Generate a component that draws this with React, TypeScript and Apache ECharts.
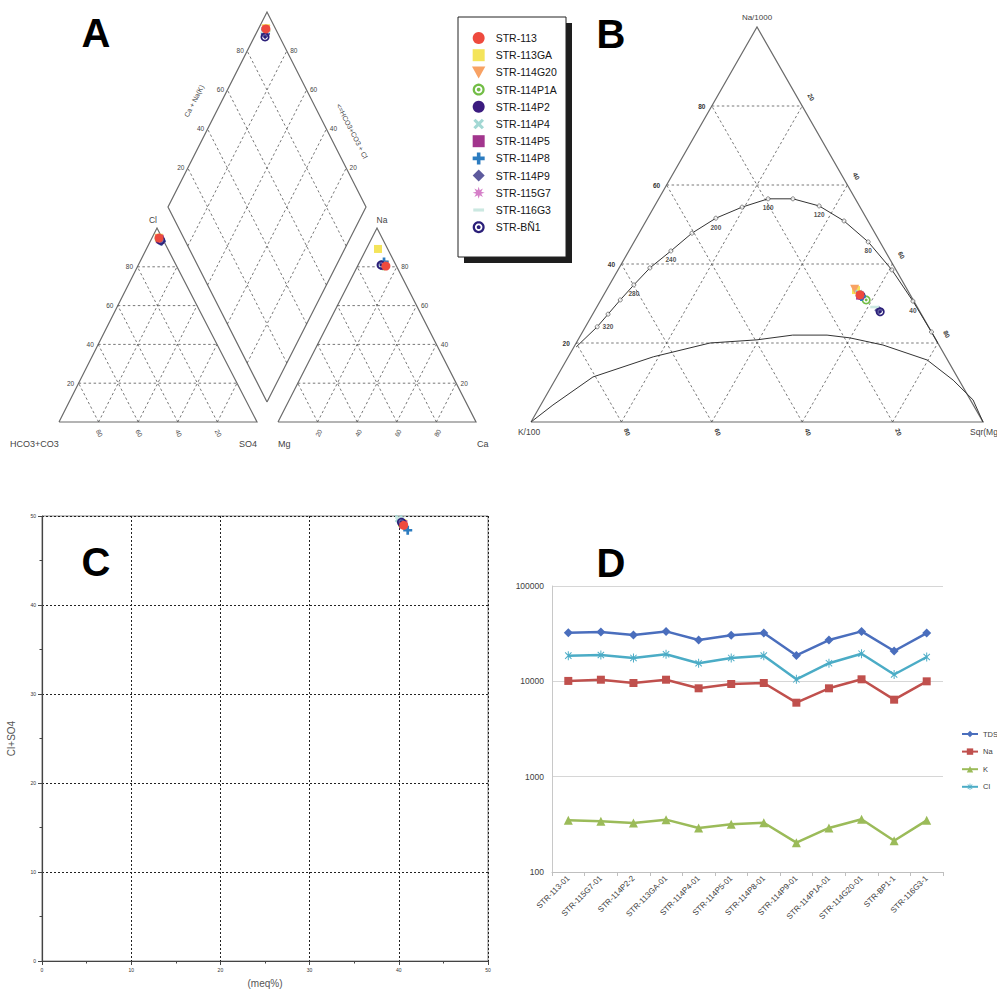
import React, { useEffect, useRef } from "react";
import * as echarts from "echarts";

// ---------------- DATA ----------------
const samples = ["STR-113", "STR-113GA", "STR-114G20", "STR-114P1A", "STR-114P2", "STR-114P4", "STR-114P5", "STR-114P8", "STR-114P9", "STR-115G7", "STR-116G3", "STR-BÑ1"];
// Piper anion triangle (% meq)
const anionCl = [94.8, 95.0, 94.6, 94.5, 94.0, 93.8, 94.2, 93.3, 93.0, 94.4, 94.3, 93.6];
const anionSO4 = [3.6, 3.4, 3.7, 3.9, 4.6, 4.8, 4.3, 5.4, 5.8, 4.0, 4.1, 5.0];
// Piper cation triangle (% meq)
const cationNa = [80.4, 89.2, 80.8, 80.5, 80.9, 81.0, 80.6, 82.5, 80.9, 80.7, 80.6, 80.9];
const cationCa = [14.3, 5.9, 13.5, 13.0, 12.0, 12.2, 13.2, 12.3, 11.8, 13.3, 12.9, 11.6];
// Piper diamond (left-edge scale, right-edge scale)
const diamondLeft = [95.1, 95.3, 94.9, 94.6, 93.8, 94.0, 94.4, 93.9, 93.2, 94.5, 94.2, 92.6];
const diamondRight = [96.2, 96.4, 96.0, 95.8, 95.5, 95.6, 95.9, 95.4, 95.1, 95.9, 95.7, 94.6];
// Giggenbach Na-K-Mg (%)
const gigNa = [32.2, 33.4, 33.6, 30.9, 32.0, 32.5, 32.0, 31.8, 28.3, 32.1, 29.1, 27.9];
const gigMg = [56.7, 55.2, 54.8, 58.7, 57.0, 56.3, 56.8, 57.2, 62.8, 56.6, 61.5, 63.3];
// Panel C
const ratioX = [40.55, 40.4, 40.5, 40.4, 40.45, 40.0, 40.5, 41.0, 40.4, 40.5, 40.1, 40.3];
const ratioY = [48.95, 49.2, 49.0, 49.1, 49.15, 49.7, 49.05, 48.4, 49.3, 49.0, 49.8, 49.3];
// Giggenbach full equilibrium line (Na%, Mg%) and temperature marks
const fullEqNa = [19.0, 24.1, 27.3, 30.9, 34.7, 39.0, 43.3, 47.8, 51.6, 54.4, 56.5, 56.5, 54.7, 50.9, 45.6, 38.5, 30.6, 22.8, 20.0];
const fullEqMg = [0.5, 2.6, 3.4, 4.3, 5.4, 6.8, 9.3, 11.7, 15.1, 19.5, 24.2, 29.7, 36.4, 43.8, 51.8, 60.6, 69.2, 77.2, 80.0];
const fullEqTemp: (string | null)[] = [null, "320", "", "", "280", "", "240", "", "200", "", "160", "", "120", "", "80", "", "40", "", null];
// Immature waters boundary (Na%, Mg%)
const partialNa = [0, 4.3, 11.4, 16.5, 20.0, 20.8, 22.0, 22.0, 21.3, 19.5, 15.7, 10.6, 5.6, 0];
const partialMg = [0, 2.7, 8.0, 18.8, 29.6, 39.6, 46.9, 54.5, 59.9, 68.1, 79.8, 88.1, 95.0, 100];
const ternTicks = [20, 40, 60, 80];
// Panel D
const wells = ["STR-113-01", "STR-115G7-01", "STR-114P2-2", "STR-113GA-01", "STR-114P4-01", "STR-114P5-01", "STR-114P8-01", "STR-114P9-01", "STR-114P1A-01", "STR-114G20-01", "STR-BP1-1", "STR-116G3-1"];
const tds = [32400, 32900, 30600, 33400, 27100, 30400, 32100, 18700, 27100, 33400, 20800, 32100];
const na = [10100, 10400, 9600, 10400, 8450, 9380, 9600, 5970, 8450, 10500, 6420, 10000];
const k = [348, 340, 326, 354, 290, 316, 329, 203, 290, 357, 213, 348];
const cl = [18600, 18900, 17600, 19200, 15500, 17600, 18600, 10500, 15500, 19500, 11800, 18000];

// ---------------- STYLE / LAYOUT ----------------
const FONT = "'Liberation Sans', Arial, Helvetica, sans-serif";
const L = {
  anion: { apex: [157, 228], bl: [59, 422], br: [257, 422] },
  cation: { apex: [377, 228], bl: [278, 422], br: [476, 422] },
  diamond: { b: [267, 402], l: [168, 207], r: [366, 207] },
  gig: { apex: [757, 27], bl: [531, 422], br: [983, 422] },
};

function polyPath(pts: number[][]) {
  return pts.map((p, i) => (i ? "L" : "M") + p[0].toFixed(2) + "," + p[1].toFixed(2)).join("") + "Z";
}
function rot(pts: number[][], a: number) {
  const c = Math.cos(a), s = Math.sin(a);
  return pts.map(([x, y]) => [x * c - y * s, x * s + y * c]);
}
function circlePts(r: number, ccw: boolean) {
  const pts: number[][] = [];
  for (let i = 0; i < 28; i++) {
    const a = (ccw ? -1 : 1) * (i * 2 * Math.PI) / 28;
    pts.push([r * Math.sin(a), -r * Math.cos(a)]);
  }
  return pts;
}
const PAD = "M-10,-10M10,10";
const plusPts = [[-3, -10], [3, -10], [3, -3], [10, -3], [10, 3], [3, 3], [3, 10], [-3, 10], [-3, 3], [-10, 3], [-10, -3], [-3, -3]];
const SYM_PLUS = "path://" + polyPath(plusPts);
const SYM_X = "path://" + PAD + polyPath(rot([[-2.6, -10], [2.6, -10], [2.6, -2.6], [10, -2.6], [10, 2.6], [2.6, 2.6], [2.6, 10], [-2.6, 10], [-2.6, 2.6], [-10, 2.6], [-10, -2.6], [-2.6, -2.6]], Math.PI / 4));
const starPts: number[][] = [];
for (let i = 0; i < 16; i++) {
  const r = i % 2 ? 4.6 : 10;
  const a = (i * Math.PI) / 8 - Math.PI / 2;
  starPts.push([r * Math.cos(a), r * Math.sin(a)]);
}
const SYM_STAR = "path://" + polyPath(starPts);
const SYM_RING = "path://" + polyPath(circlePts(10, false)) + polyPath(circlePts(6.2, true)) + polyPath(circlePts(3.2, false));
const SYM_TRIDOWN = "path://M-10,-9L10,-9L0,9Z";
const SYM_DASH = "path://" + PAD + "M-9,-2.6L9,-2.6L9,2.6L-9,2.6Z";
const SYM_SQUARE = "path://M-10,-10L10,-10L10,10L-10,10Z";
const SYM_DIAMOND = "path://M0,-10L10,0L0,10L-10,0Z";
const bar = [[-1.1, -10], [1.1, -10], [1.1, 10], [-1.1, 10]];
const SYM_ASTER = "path://" + PAD + polyPath(bar) + polyPath(rot(bar, Math.PI / 4)) + polyPath(rot(bar, -Math.PI / 4));

const sampleStyle = [
  { color: "#ee4a3e", symbol: "circle", size: 9 },
  { color: "#f4e45a", symbol: SYM_SQUARE, size: 8 },
  { color: "#f8a264", symbol: SYM_TRIDOWN, size: 9 },
  { color: "#72bd46", symbol: SYM_RING, size: 9 },
  { color: "#3b1b7f", symbol: "circle", size: 9 },
  { color: "#a3d8d4", symbol: SYM_X, size: 9 },
  { color: "#a2358d", symbol: SYM_SQUARE, size: 8 },
  { color: "#2c7cc0", symbol: SYM_PLUS, size: 9 },
  { color: "#5d5a9d", symbol: SYM_DIAMOND, size: 9 },
  { color: "#d57fc8", symbol: SYM_STAR, size: 9 },
  { color: "#cbe8e1", symbol: SYM_DASH, size: 10 },
  { color: "#2b1f79", symbol: SYM_RING, size: 9 },
];

function tern(T: any, a: number, r: number) {
  const l = 1 - a - r;
  return [T.apex[0] * a + T.br[0] * r + T.bl[0] * l, T.apex[1] * a + T.br[1] * r + T.bl[1] * l];
}
function dia(s: number, t: number) {
  const d = L.diamond;
  return [d.b[0] + s * (d.l[0] - d.b[0]) + t * (d.r[0] - d.b[0]), d.b[1] + s * (d.l[1] - d.b[1]) + t * (d.r[1] - d.b[1])];
}

function txt(x: number, y: number, text: string, o: any = {}) {
  return {
    type: "text", x, y, rotation: o.rot || 0, silent: true, z: 6,
    style: {
      text, fill: o.color || "#444", fontSize: o.size || 7, fontFamily: FONT, fontWeight: o.weight || "normal",
      align: o.align || "center", verticalAlign: o.valign || "middle",
    },
  };
}

function buildOption() {
  const frames: any[] = [];
  const dashes: any[] = [];
  const graphics: any[] = [];
  const fr = ternTicks.map((v) => v / 100);

  const triangle = (T: any) => {
    frames.push({ coords: [T.bl, T.apex, T.br, T.bl] });
    fr.forEach((q) => {
      dashes.push({ coords: [tern(T, q, 0), tern(T, q, 1 - q)] });
      dashes.push({ coords: [tern(T, 0, q), tern(T, 1 - q, q)] });
      dashes.push({ coords: [tern(T, 0, 1 - q), tern(T, 1 - q, 0)] });
    });
  };
  triangle(L.anion);
  triangle(L.cation);
  triangle(L.gig);
  frames.push({ coords: [dia(0, 0), dia(1, 0), dia(1, 1), dia(0, 1), dia(0, 0)] });
  fr.forEach((q) => {
    dashes.push({ coords: [dia(q, 0), dia(q, 1)] });
    dashes.push({ coords: [dia(0, q), dia(1, q)] });
  });

  // ---- Panel A texts ----
  ternTicks.forEach((v) => {
    const q = v / 100;
    const pl = dia(1, q);
    graphics.push(txt(pl[0] - 7, pl[1] - 1, String(v), { size: 6.5 }));
    const pr = dia(q, 1);
    graphics.push(txt(pr[0] + 7, pr[1] - 1, String(v), { size: 6.5 }));
    const a1 = tern(L.anion, q, 0);
    graphics.push(txt(a1[0] - 8, a1[1], String(v), { size: 6.5 }));
    const c1 = tern(L.cation, q, 1 - q);
    graphics.push(txt(c1[0] + 8, c1[1], String(v), { size: 6.5 }));
    const ab = tern(L.anion, 0, q);
    graphics.push(txt(ab[0] + 1, ab[1] + 11, String(100 - v), { size: 6.5, rot: -1.1 }));
    const cb = tern(L.cation, 0, q);
    graphics.push(txt(cb[0] + 1, cb[1] + 11, String(v), { size: 6.5, rot: 1.1 }));
  });
  graphics.push(txt(194, 101, "Ca + Na(K)", { size: 7, rot: 1.1 }));
  graphics.push(txt(352, 131, "<=HCO3+CO3 + Cl", { size: 7, rot: -1.1 }));
  graphics.push(txt(153, 220, "Cl", { size: 8.5 }));
  graphics.push(txt(382, 220, "Na", { size: 8.5 }));
  graphics.push(txt(10, 444, "HCO3+CO3", { size: 9, align: "left" }));
  graphics.push(txt(257, 444, "SO4", { size: 9, align: "right" }));
  graphics.push(txt(278, 444, "Mg", { size: 9, align: "left" }));
  graphics.push(txt(477, 444, "Ca", { size: 9, align: "left" }));

  // ---- Panel B texts ----
  ternTicks.forEach((v) => {
    const q = v / 100;
    const pl = tern(L.gig, q, 0);
    graphics.push(txt(pl[0] - 10, pl[1], String(v), { size: 6.5, weight: "bold", color: "#333" }));
    const pr = tern(L.gig, 1 - q, q);
    graphics.push(txt(pr[0] + 9, pr[1] - 9, String(v), { size: 6.5, weight: "bold", color: "#333", rot: -1.1 }));
    const pb = tern(L.gig, 0, q);
    graphics.push(txt(pb[0] + 6, pb[1] + 10, String(100 - v), { size: 6.5, weight: "bold", color: "#333", rot: -1.2 }));
  });
  graphics.push(txt(757, 17, "Na/1000", { size: 8 }));
  graphics.push(txt(529, 432, "K/100", { size: 8.5 }));
  graphics.push(txt(970, 432, "Sqr(Mg", { size: 8.5, align: "left" }));

  // ---- panel letters ----
  const big = { size: 40, weight: "bold", color: "#000" };
  graphics.push(txt(96, 33, "A", big));
  graphics.push(txt(611, 34, "B", big));
  graphics.push(txt(96, 562, "C", big));
  graphics.push(txt(611, 563, "D", big));

  // ---- legend box ----
  graphics.push({ type: "rect", z: 1, silent: true, shape: { x: 464, y: 23, width: 108, height: 240 }, style: { fill: "#1e1e1e" } });
  graphics.push({ type: "rect", z: 2, silent: true, shape: { x: 458, y: 17, width: 108, height: 240 }, style: { fill: "#fff", stroke: "#222", lineWidth: 1 } });

  const series: any[] = [];
  series.push({
    type: "lines", coordinateSystem: "cartesian2d", xAxisIndex: 0, yAxisIndex: 0, polyline: true, silent: true, z: 1,
    lineStyle: { color: "#6b6b6b", width: 1.2, opacity: 1 }, data: frames,
  });
  series.push({
    type: "lines", coordinateSystem: "cartesian2d", xAxisIndex: 0, yAxisIndex: 0, polyline: true, silent: true, z: 1,
    lineStyle: { color: "#555", width: 0.8, opacity: 1, type: [2.5, 2.5] }, data: dashes,
  });
  const fullCoords = fullEqNa.map((n, i) => tern(L.gig, n / 100, fullEqMg[i] / 100));
  const partCoords = partialNa.map((n, i) => tern(L.gig, n / 100, partialMg[i] / 100));
  series.push({
    type: "lines", coordinateSystem: "cartesian2d", xAxisIndex: 0, yAxisIndex: 0, polyline: true, silent: true, z: 2,
    lineStyle: { color: "#333", width: 1, opacity: 1 }, data: [{ coords: fullCoords }, { coords: partCoords }],
  });
  const markData: any[] = [];
  fullEqTemp.forEach((t, i) => {
    if (t === null) return;
    markData.push({
      value: fullCoords[i],
      label: { show: t !== "", formatter: t, position: t === "320" ? "right" : "bottom", distance: 3 },
    });
  });
  series.push({
    type: "scatter", name: "_temps", xAxisIndex: 0, yAxisIndex: 0, silent: true, z: 2,
    symbol: "circle", symbolSize: 4,
    itemStyle: { color: "#fff", borderColor: "#444", borderWidth: 0.8 },
    label: { fontSize: 6.5, fontWeight: "bold", color: "#222", fontFamily: FONT },
    data: markData,
  });

  // sample points (A + B on pixel grid, C on its own axes)
  samples.forEach((name, i) => {
    const st = sampleStyle[i];
    const pts = [
      tern(L.anion, anionCl[i] / 100, anionSO4[i] / 100),
      tern(L.cation, cationNa[i] / 100, cationCa[i] / 100),
      dia(diamondRight[i] / 100, diamondLeft[i] / 100),
      tern(L.gig, gigNa[i] / 100, gigMg[i] / 100),
    ];
    const common = {
      type: "scatter", name, symbol: st.symbol, symbolSize: st.size,
      itemStyle: { color: st.color, opacity: 1 }, z: i === 0 ? 4 : 3, silent: true,
    };
    series.push({ ...common, xAxisIndex: 0, yAxisIndex: 0, data: pts });
    series.push({ ...common, xAxisIndex: 1, yAxisIndex: 1, data: [[ratioX[i], ratioY[i]]] });
  });

  // Panel D lines
  const lineDefs = [
    { name: "TDS", data: tds, color: "#4a6ebd", symbol: "diamond", size: 9 },
    { name: "Na", data: na, color: "#c0504d", symbol: "rect", size: 8 },
    { name: "K", data: k, color: "#9bbb59", symbol: "triangle", size: 9 },
    { name: "Cl", data: cl, color: "#4bacc6", symbol: SYM_ASTER, size: 9 },
  ];
  lineDefs.forEach((d) => {
    series.push({
      type: "line", name: d.name, xAxisIndex: 2, yAxisIndex: 2, data: d.data,
      symbol: d.symbol, symbolSize: d.size, showSymbol: true,
      lineStyle: { color: d.color, width: 2.5 }, itemStyle: { color: d.color }, z: 3,
    });
  });

  return {
    animation: false,
    backgroundColor: "#fff",
    textStyle: { fontFamily: FONT },
    grid: [
      { left: 0, top: 0, width: 997, height: 990 },
      { left: 42, top: 516, width: 446, height: 445, show: true, borderColor: "#888", borderWidth: 1, backgroundColor: "transparent" },
      { left: 552, top: 586, width: 391, height: 286 },
    ],
    xAxis: [
      { type: "value", gridIndex: 0, min: 0, max: 997, show: false },
      {
        type: "value", gridIndex: 1, min: 0, max: 50, interval: 10,
        name: "(meq%)", nameLocation: "middle", nameGap: 17,
        nameTextStyle: { fontSize: 10, color: "#555", fontFamily: FONT },
        axisLine: { lineStyle: { color: "#444", width: 1.2 } },
        axisTick: { show: true, length: 4, lineStyle: { color: "#444" } },
        minorTick: { show: true, splitNumber: 2, length: 2.5, lineStyle: { color: "#444" } },
        axisLabel: { fontSize: 5, color: "#333", margin: 6 },
        splitLine: { show: true, lineStyle: { color: "#222", width: 1, type: [2, 2] } },
      },
      {
        type: "category", gridIndex: 2, data: wells, boundaryGap: true,
        axisLine: { lineStyle: { color: "#bfbfbf", width: 1 } },
        axisTick: { show: true, length: 4, lineStyle: { color: "#bfbfbf" } },
        axisLabel: { rotate: 45, fontSize: 8, color: "#404040", margin: 5, interval: 0 },
      },
    ],
    yAxis: [
      { type: "value", gridIndex: 0, min: 0, max: 990, inverse: true, show: false },
      {
        type: "value", gridIndex: 1, min: 0, max: 50, interval: 10,
        name: "Cl+SO4", nameLocation: "middle", nameGap: 26,
        nameTextStyle: { fontSize: 10, color: "#555", fontFamily: FONT },
        axisLine: { show: true, lineStyle: { color: "#444", width: 1.2 } },
        axisTick: { show: true, length: 4, lineStyle: { color: "#444" } },
        minorTick: { show: true, splitNumber: 2, length: 2.5, lineStyle: { color: "#444" } },
        axisLabel: { fontSize: 5, color: "#333", margin: 6 },
        splitLine: { show: true, lineStyle: { color: "#222", width: 1, type: [2, 2] } },
      },
      {
        type: "log", gridIndex: 2, logBase: 10, min: 100, max: 100000,
        axisLine: { show: true, lineStyle: { color: "#c8c8c8" } },
        axisTick: { show: false },
        axisLabel: { fontSize: 8.5, color: "#404040", margin: 8, formatter: (v: number) => String(Math.round(v)) },
        splitLine: { show: true, lineStyle: { color: "#d6d6d6", width: 1 } },
      },
    ],
    legend: [
      {
        data: samples, orient: "vertical", left: 467, top: 27, itemWidth: 24, itemHeight: 12, itemGap: 5.2,
        selectedMode: false, textStyle: { fontSize: 10.5, color: "#151515", fontFamily: FONT }, z: 5,
      },
      {
        data: ["TDS", "Na", "K", "Cl"], orient: "vertical", left: 956, top: 725, itemWidth: 16, itemHeight: 8, itemGap: 9.6,
        selectedMode: false, textStyle: { fontSize: 7.5, color: "#404040", fontFamily: FONT },
      },
    ],
    graphic: graphics,
    series,
  };
}

export default function App() {
  const ref = useRef<HTMLDivElement>(null);
  useEffect(() => {
    const chart = echarts.init(ref.current!, null, { renderer: "svg" });
    chart.setOption(buildOption() as any);
    return () => chart.dispose();
  }, []);
  return <div ref={ref} style={{ position: "absolute", left: 0, top: 0, width: 997, height: 990, background: "#fff" }} />;
}
